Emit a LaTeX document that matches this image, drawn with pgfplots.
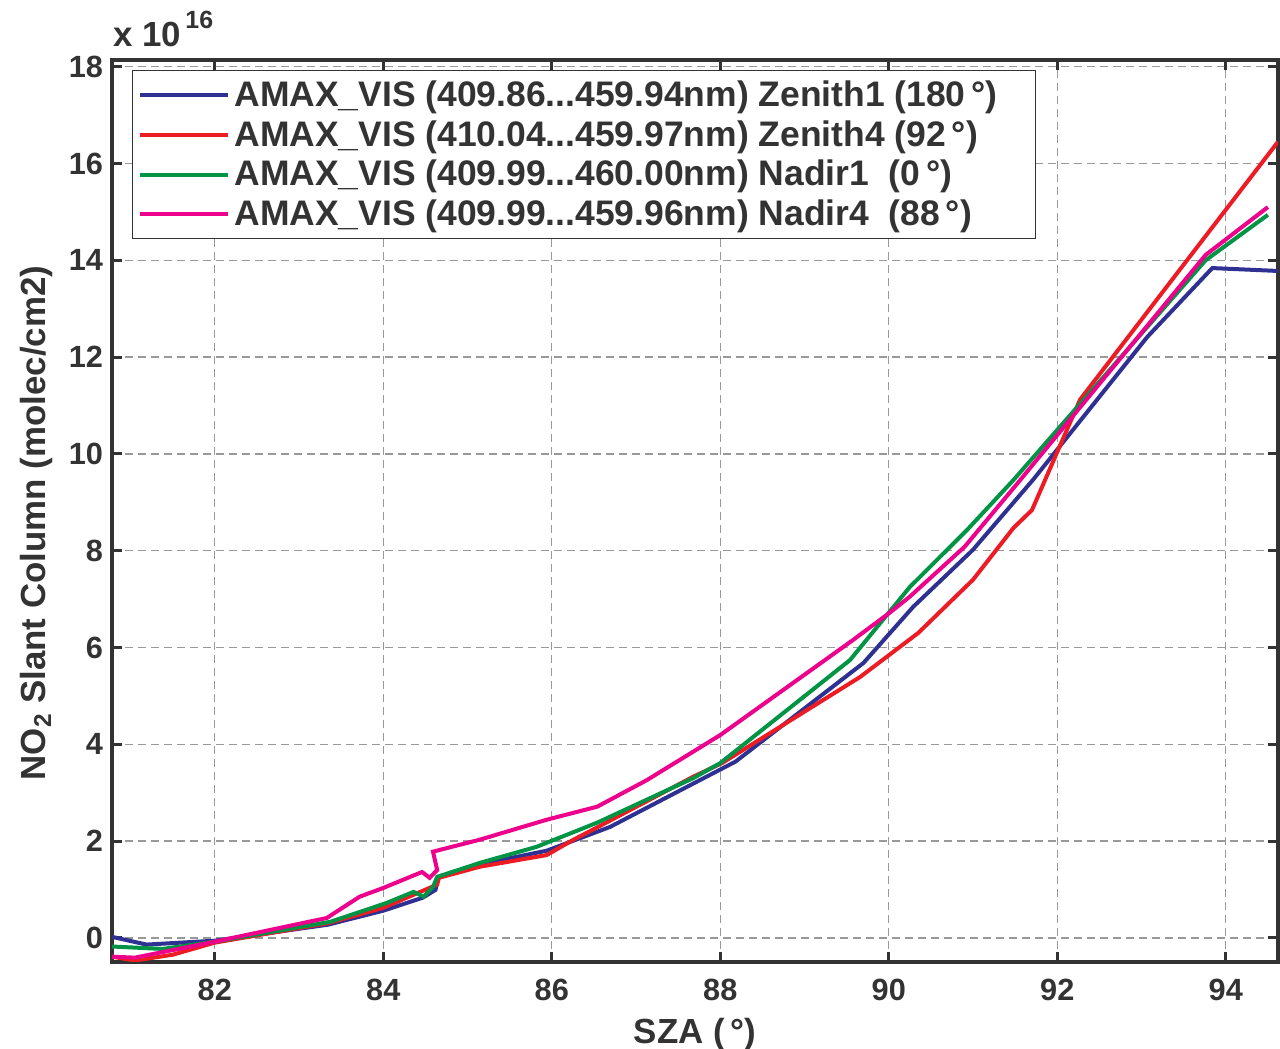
\documentclass[border=0pt]{standalone}
\usepackage{fontspec}
\setmainfont{Liberation Sans}
\usepackage{pgfplots}
\pgfplotsset{compat=1.18}

\definecolor{txt}{RGB}{51,51,51}
\definecolor{zen1}{RGB}{46,49,146}
\definecolor{zen4}{RGB}{237,28,36}
\definecolor{nad1}{RGB}{0,148,68}
\definecolor{nad4}{RGB}{236,0,140}

% values in units of 1e16 molec/cm2
\pgfplotstableread{
sza    scd
80.78  0.02
81.19 -0.14
82.00 -0.06
83.34  0.27
84.00  0.56
84.47  0.83
84.62  0.99
84.65  1.24
85.15  1.52
85.94  1.80
86.69  2.29
87.76  3.26
88.18  3.64
89.70  5.68
90.29  6.84
91.00  8.02
91.71  9.46
93.07 12.42
93.84 13.84
94.62 13.78
}\zenithone

\pgfplotstableread{
sza    scd
80.78 -0.39
81.05 -0.47
81.50 -0.35
82.00 -0.10
83.34  0.30
84.00  0.62
84.64  1.10
84.66  1.24
85.15  1.47
85.94  1.71
86.25  2.02
86.57  2.31
87.68  3.33
88.02  3.61
89.66  5.39
90.35  6.30
91.00  7.40
91.48  8.47
91.70  8.84
92.27 11.12
94.62 16.45
}\zenithfour

\pgfplotstableread{
sza    scd
80.78 -0.18
81.38 -0.23
82.00 -0.08
83.37  0.33
84.04  0.72
84.36  0.95
84.48  0.85
84.59  1.05
84.64  1.26
85.15  1.55
85.82  1.88
86.54  2.38
87.68  3.30
88.00  3.61
89.54  5.74
90.25  7.25
90.93  8.43
91.48  9.46
93.76 14.00
94.50 14.94
}\nadirone

\pgfplotstableread{
sza    scd
80.78 -0.39
81.05 -0.41
82.00 -0.08
83.33  0.41
83.72  0.85
84.00  1.03
84.46  1.36
84.55  1.24
84.64  1.40
84.59  1.78
85.15  2.03
85.94  2.44
86.54  2.71
87.13  3.26
88.00  4.19
89.58  6.16
90.02  6.73
90.25  7.05
90.90  8.08
91.56  9.46
93.76 14.11
94.50 15.10
}\nadirfour

\begin{document}
\begin{tikzpicture}
\begin{axis}[
  scale only axis,
  width=583bp,
  height=451bp,
  xmin=80.78, xmax=94.62,
  ymin=-0.5, ymax=18.14,
  xtick={82,84,...,94},
  ytick={0,2,...,18},
  axis line style={txt,line width=2bp},
  tick style={txt,line width=1.5bp},
  major tick length=5bp,
  tick align=inside,
  grid=major,
  grid style={gray!80,line width=0.7bp,dash pattern=on 4bp off 2.5bp},
  tick label style={font=\fontsize{15.4}{18}\selectfont\bfseries,text=txt},
  /pgf/number format/assume math mode=true,
  xticklabel style={yshift=-5bp},
  yticklabel style={xshift=-1bp},
  xlabel={\bfseries SZA (\,°)},
  ylabel={\bfseries NO\textsubscript{2} Slant Column (molec/cm2)},
  label style={font=\fontsize{17.5}{20}\selectfont,text=txt},
  xlabel style={yshift=-2bp},
  ylabel style={yshift=1bp,xshift=-6bp},
  legend cell align=left,
  legend style={at={(rel axis cs:0.017,0.989)},anchor=north west,
    draw=txt,line width=0.6bp,fill=white,
    font=\fontsize{17.8}{20}\selectfont\bfseries,text=txt,
    inner xsep=3bp,inner ysep=3bp,row sep=1.6bp},
  legend image code/.code={\path (0bp,0bp) -- (44bp,0bp);
    \draw[#1,line width=2bp] (3.5bp,0bp) -- (36bp,0bp);},
  every axis plot/.append style={line width=2bp},
]
\addplot[zen1] table[x=sza,y=scd] {\zenithone};
\addlegendentry{AMAX\_VIS (409.86...459.94nm) Zenith1 (180\,°)\rule{14bp}{0pt}}
\addplot[zen4] table[x=sza,y=scd] {\zenithfour};
\addlegendentry{AMAX\_VIS (410.04...459.97nm) Zenith4 (92\,°)}
\addplot[nad1] table[x=sza,y=scd] {\nadirone};
\addlegendentry{AMAX\_VIS (409.99...460.00nm) Nadir1\ \ (0\,°)}
\addplot[nad4] table[x=sza,y=scd] {\nadirfour};
\addlegendentry{AMAX\_VIS (409.99...459.96nm) Nadir4\ \ (88\,°)}
\coordinate (sw) at (rel axis cs:0,0);
\coordinate (ne) at (rel axis cs:1,1);
\coordinate (nw) at (rel axis cs:0,1);
\end{axis}
\node[anchor=base west,font=\fontsize{17.5}{20}\selectfont\bfseries,text=txt,inner sep=0pt]
  at ([shift={(0.5bp,6.5bp)}]nw) {x 10\raisebox{9bp}{\fontsize{12.5}{13}\selectfont\,16}};
\pgfresetboundingbox
\path ([shift={(-56bp,-43.5bp)}]sw) rectangle ([shift={(1bp,30bp)}]ne);
\end{tikzpicture}
\end{document}
